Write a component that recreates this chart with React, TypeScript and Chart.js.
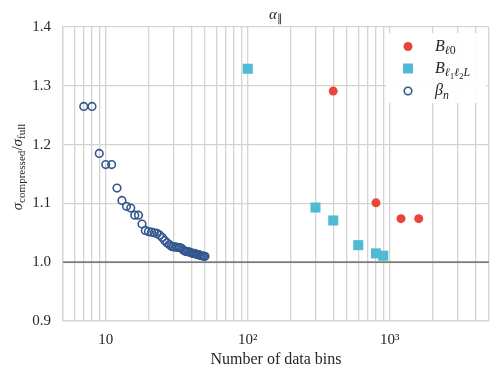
import React, { useEffect, useRef } from "react";
import { Chart, registerables } from "chart.js";

Chart.register(...registerables);

// ---- data ----
const binsBeta = [7, 8, 9, 10, 11, 12, 13, 14, 15, 16, 17, 18, 19, 20, 21, 22, 23, 24, 25, 26, 27, 28, 29, 30, 31, 32, 33, 34, 35, 36, 37, 38, 39, 40, 41, 42, 43, 44, 45, 46, 47, 48, 49, 50];
const ratioBeta = [1.265, 1.265, 1.185, 1.166, 1.166, 1.126, 1.105, 1.095, 1.092, 1.080, 1.080, 1.065, 1.054, 1.052, 1.051, 1.050, 1.049, 1.046, 1.042, 1.037, 1.033, 1.030, 1.027, 1.026, 1.026, 1.025, 1.025, 1.024, 1.021, 1.019, 1.018, 1.018, 1.017, 1.016, 1.015, 1.015, 1.014, 1.013, 1.013, 1.012, 1.011, 1.011, 1.010, 1.010];
const binsBl0 = [400, 800, 1200, 1600];
const ratioBl0 = [1.291, 1.101, 1.074, 1.074];
const binsBl1l2L = [100, 300, 400, 600, 800, 900];
const ratioBl1l2L = [1.329, 1.093, 1.071, 1.029, 1.015, 1.011];

const xGridValues = [5, 6, 7, 8, 9, 10, 20, 30, 40, 50, 60, 70, 80, 90, 100, 200, 300, 400, 500, 600, 700, 800, 900, 1000, 2000, 3000, 4000, 5000];
const xTickLabels: Record<number, string> = { 10: "10", 100: "10\u00b2", 1000: "10\u00b3" };
const yTickValues = [0.9, 1.0, 1.1, 1.2, 1.3, 1.4];

const RED = "#e8463a";
const CYAN = "#4fbad3";
const BLUE = "#35578f";
const GRID = "#d4d4d4";
const TEXT = "#262626";
const FONT = '"Liberation Serif", serif';

type Part = { t: string; it?: boolean; lvl?: number };

function partFont(p: Part, base: number) {
  const s = base * (p.lvl === 2 ? 0.56 : p.lvl === 1 ? 0.74 : 1);
  return `${p.it ? "italic " : ""}${s}px ${FONT}`;
}
function partDy(p: Part, base: number) {
  return p.lvl === 2 ? base * 0.4 : p.lvl === 1 ? base * 0.22 : 0;
}
function drawMath(ctx: CanvasRenderingContext2D, parts: Part[], x: number, cy: number, base: number, align: "center" | "left") {
  ctx.textBaseline = "alphabetic";
  ctx.textAlign = "left";
  let w = 0;
  const ws = parts.map((p) => {
    ctx.font = partFont(p, base);
    const m = ctx.measureText(p.t).width;
    w += m;
    return m;
  });
  let cx = align === "center" ? x - w / 2 : x;
  const by = cy + base * 0.33;
  parts.forEach((p, i) => {
    ctx.font = partFont(p, base);
    ctx.fillText(p.t, cx, by + partDy(p, base));
    cx += ws[i];
  });
}

const titleParts: Part[] = [{ t: "\u03b1", it: true }, { t: "\u2225", lvl: 1 }];
const yTitleParts: Part[] = [
  { t: "\u03c3", it: true },
  { t: "compressed", lvl: 1 },
  { t: "/" },
  { t: "\u03c3", it: true },
  { t: "full", lvl: 1 },
];
const legendItems: { parts: Part[]; kind: string }[] = [
  { parts: [{ t: "B", it: true }, { t: "\u2113", it: true, lvl: 1 }, { t: "0", lvl: 1 }], kind: "red" },
  {
    parts: [
      { t: "B", it: true },
      { t: "\u2113", it: true, lvl: 1 },
      { t: "1", lvl: 2 },
      { t: "\u2113", it: true, lvl: 1 },
      { t: "2", lvl: 2 },
      { t: "L", it: true, lvl: 1 },
    ],
    kind: "cyan",
  },
  { parts: [{ t: "\u03b2", it: true }, { t: "n", it: true, lvl: 1 }], kind: "blue" },
];

const decorPlugin = {
  id: "decor",
  beforeDatasetsDraw(chart: any) {
    const { ctx, chartArea, scales } = chart;
    const y = scales.y.getPixelForValue(1.0);
    ctx.save();
    ctx.strokeStyle = "#7c7c7c";
    ctx.lineWidth = 1.8;
    ctx.beginPath();
    ctx.moveTo(chartArea.left, y);
    ctx.lineTo(chartArea.right, y);
    ctx.stroke();
    ctx.restore();
  },
  afterDraw(chart: any) {
    const { ctx, chartArea } = chart;
    ctx.save();
    ctx.fillStyle = TEXT;
    const cxp = (chartArea.left + chartArea.right) / 2;
    // title
    drawMath(ctx, titleParts, cxp, 14, 15, "center");
    // x title
    ctx.font = `16px ${FONT}`;
    ctx.textAlign = "center";
    ctx.textBaseline = "middle";
    ctx.fillText("Number of data bins", cxp, 360);
    // y title
    ctx.save();
    ctx.translate(17, 167);
    ctx.rotate(-Math.PI / 2);
    drawMath(ctx, yTitleParts, 0, 0, 15, "center");
    ctx.restore();
    // legend
    const lx = 386, ly = 33, lw = 100, lh = 70;
    ctx.fillStyle = "rgba(255,255,255,0.92)";
    ctx.beginPath();
    (ctx as any).roundRect ? (ctx as any).roundRect(lx, ly, lw, lh, 3) : ctx.rect(lx, ly, lw, lh);
    ctx.fill();
    const rows = [46.5, 68.5, 91];
    legendItems.forEach((it, i) => {
      const my = rows[i];
      const mx = 408;
      if (it.kind === "red") {
        ctx.fillStyle = RED;
        ctx.beginPath();
        ctx.arc(mx, my, 4.5, 0, Math.PI * 2);
        ctx.fill();
      } else if (it.kind === "cyan") {
        ctx.fillStyle = CYAN;
        ctx.fillRect(mx - 5, my - 5, 10, 10);
      } else {
        ctx.strokeStyle = BLUE;
        ctx.lineWidth = 1.6;
        ctx.beginPath();
        ctx.arc(mx, my, 3.8, 0, Math.PI * 2);
        ctx.stroke();
      }
      ctx.fillStyle = TEXT;
      drawMath(ctx, it.parts, 435, my - 1, 16, "left");
    });
    ctx.restore();
  },
};

export default function App() {
  const ref = useRef<HTMLCanvasElement | null>(null);
  useEffect(() => {
    if (!ref.current) return;
    const chart = new Chart(ref.current, {
      type: "scatter",
      data: {
        datasets: [
          {
            label: "B_l0",
            data: binsBl0.map((x, i) => ({ x, y: ratioBl0[i] })),
            pointStyle: "circle",
            pointRadius: 4.5,
            backgroundColor: RED,
            borderWidth: 0,
          },
          {
            label: "B_l1l2L",
            data: binsBl1l2L.map((x, i) => ({ x, y: ratioBl1l2L[i] })),
            pointStyle: "rect",
            pointRadius: 7.1,
            backgroundColor: CYAN,
            borderWidth: 0,
          },
          {
            label: "beta_n",
            data: binsBeta.map((x, i) => ({ x, y: ratioBeta[i] })),
            pointStyle: "circle",
            pointRadius: 3.8,
            backgroundColor: "rgba(0,0,0,0)",
            borderColor: BLUE,
            borderWidth: 1.6,
          },
        ],
      },
      options: {
        animation: false,
        responsive: false,
        devicePixelRatio: 1,
        layout: { padding: { top: 27, right: 10, left: 0, bottom: 0 } },
        plugins: { legend: { display: false }, tooltip: { enabled: false }, title: { display: false } },
        scales: {
          x: {
            type: "logarithmic",
            min: 5,
            max: 5000,
            afterBuildTicks: (s: any) => {
              s.ticks = xGridValues.map((v) => ({ value: v }));
            },
            afterFit: (s: any) => {
              s.height = 56;
            },
            ticks: {
              autoSkip: false,
              maxRotation: 0,
              padding: 10,
              color: TEXT,
              font: { family: FONT, size: 15 },
              callback: (v: any) => xTickLabels[Number(v)] ?? "",
            },
            grid: { color: GRID, lineWidth: 1.3, drawTicks: false },
            border: { display: true, color: GRID, width: 1.3 },
          },
          y: {
            type: "linear",
            min: 0.9,
            max: 1.4,
            afterBuildTicks: (s: any) => {
              s.ticks = yTickValues.map((v) => ({ value: v }));
            },
            afterFit: (s: any) => {
              s.width = 63;
            },
            ticks: {
              padding: 12,
              color: TEXT,
              font: { family: FONT, size: 15 },
              callback: (v: any) => Number(v).toFixed(1),
            },
            grid: { color: GRID, lineWidth: 1.3, drawTicks: false },
            border: { display: true, color: GRID, width: 1.3 },
          },
        },
      },
      plugins: [decorPlugin],
    });
    return () => chart.destroy();
  }, []);
  return (
    <div style={{ position: "absolute", left: 0, top: 0 }}>
      <canvas ref={ref} width={499} height={377} style={{ display: "block" }} />
    </div>
  );
}
